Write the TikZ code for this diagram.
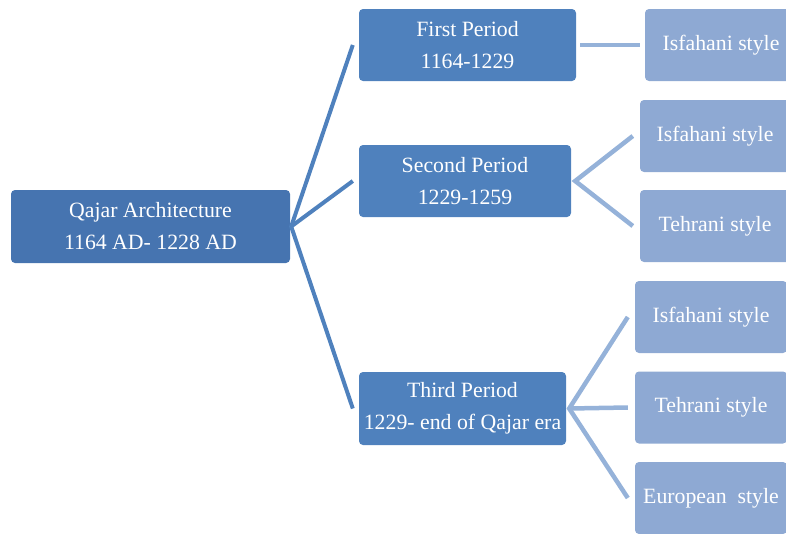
\documentclass[tikz,border=0pt]{standalone}
\usepackage{fontspec}
\setmainfont{Liberation Serif}
\definecolor{rootblue}{HTML}{4674B0}
\definecolor{periodblue}{HTML}{4F81BD}
\definecolor{styleblue}{HTML}{8EA9D3}
\definecolor{linkblue}{HTML}{95B2D9}
\tikzset{
  box/.style={rectangle,rounded corners=4pt,text=white,align=center,
    inner sep=0pt,minimum height=72pt,
    font=\fontsize{21.8}{32}\selectfont},
  root/.style={box,fill=rootblue,minimum width=279pt,minimum height=73pt},
  period/.style={box,fill=periodblue},
  stylebox/.style={box,fill=styleblue},
  trunk/.style={periodblue,line width=4pt,line join=miter},
  twig/.style={linkblue,line width=4.5pt,line join=miter}
}

\begin{document}
\begin{tikzpicture}[x=1pt,y=1pt]
    \useasboundingbox (0,0) rectangle (786,-533);
    \clip (0,0) rectangle (786,-533);

    % — Root
    \node [root] (qajar) at (150.5,-226.5) {Qajar Architecture\\1164 AD- 1228 AD};

    % — Periods
    \node [period,minimum width=217pt] (first)  at (467.5,-45)  {First Period\\1164-1229};
    \node [period,minimum width=212pt] (second) at (465,-181)   {Second Period\\1229-1259};
    \node [period,minimum width=207pt,minimum height=73pt] (third) at (462.5,-408.5)
      {Third Period\\1229- end of Qajar era};

    % — Styles of each period
    \node [stylebox,minimum width=152pt] (isf1) at (721,-45)  {Isfahani style};
    \node [stylebox,minimum width=150pt] (isf2) at (715,-136) {Isfahani style};
    \node [stylebox,minimum width=150pt] (teh2) at (715,-226) {Tehrani style};
    \node [stylebox,minimum width=152pt] (isf3) at (711,-317) {Isfahani style};
    \node [stylebox,minimum width=152pt] (teh3) at (711,-407.5) {Tehrani style};
    \node [stylebox,minimum width=152pt] (eur3) at (711,-498) {European~~style};

    % — Root to periods
    \draw [trunk] ([xshift=-6pt]first.west) -- ([xshift=1pt]qajar.east)
      -- ([xshift=-6pt]third.west);
    \draw [trunk] ([xshift=1pt]qajar.east) -- ([xshift=-6pt]second.west);

    % — Periods to styles
    \draw [twig] ([xshift=4pt]first.east) -- ([xshift=-5pt]isf1.west);
    \draw [twig] ([xshift=-7pt]isf2.west) -- ([xshift=4pt]second.east)
      -- ([xshift=-7pt]teh2.west);
    \draw [twig] ([xshift=-7pt]isf3.west) -- ([xshift=3pt]third.east)
      -- ([xshift=-7pt]eur3.west);
    \draw [twig] ([xshift=3pt]third.east) -- ([xshift=-7pt]teh3.west);
\end{tikzpicture}
\end{document}
